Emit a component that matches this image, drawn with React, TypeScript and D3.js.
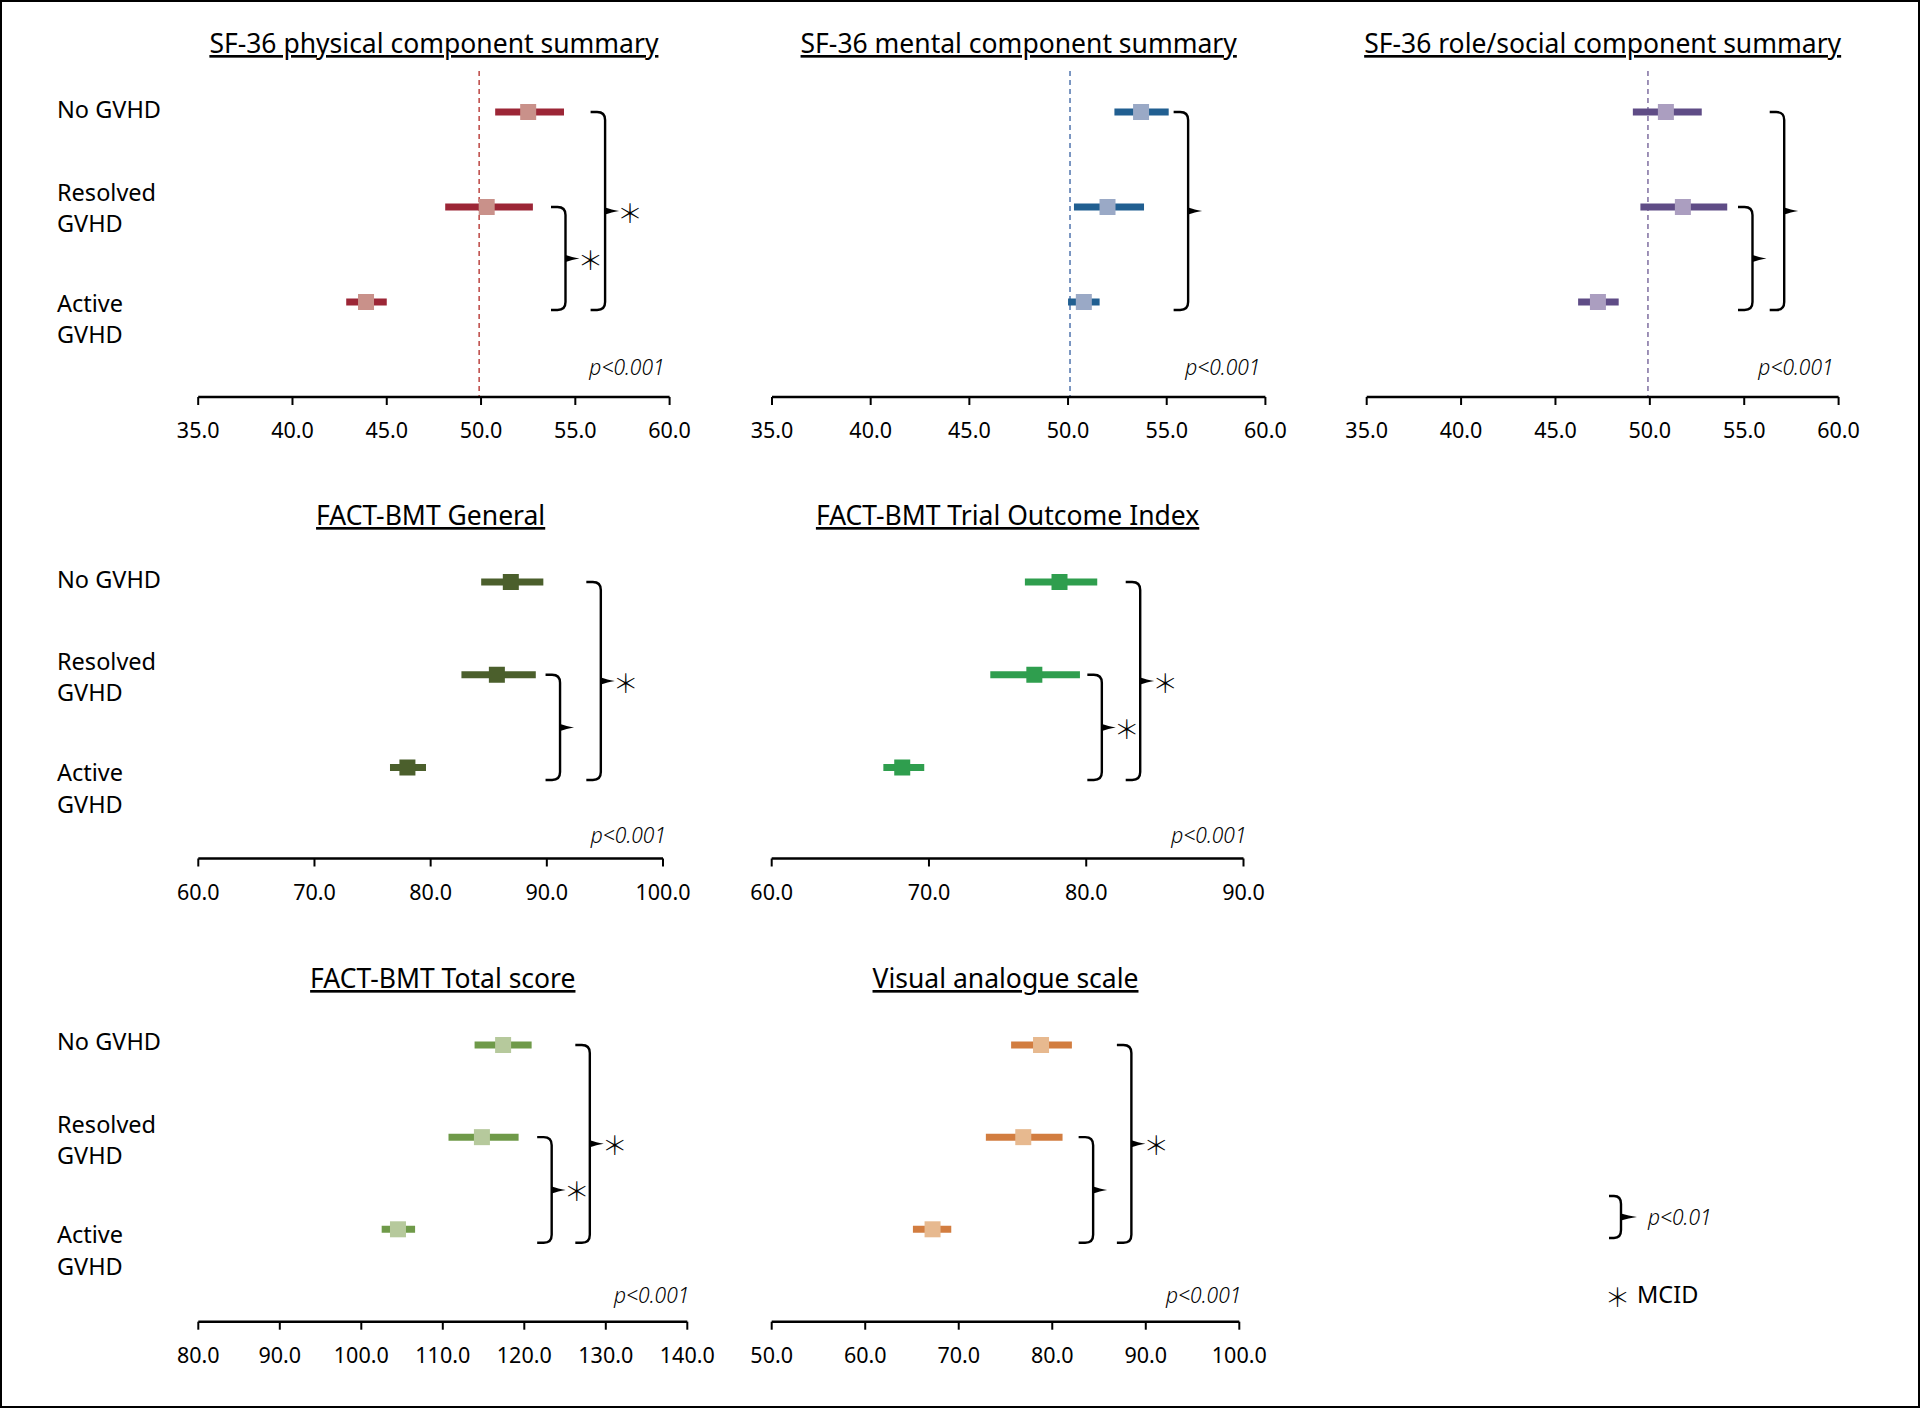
import React from "react";
import * as d3 from "d3";

// ---------- DATA ----------
const groupLabels = ["No GVHD", "Resolved GVHD", "Active GVHD"];

const titles = [
  "SF-36 physical component summary",
  "SF-36 mental component summary",
  "SF-36 role/social component summary",
  "FACT-BMT General",
  "FACT-BMT Trial Outcome Index",
  "FACT-BMT Total score",
  "Visual analogue scale",
];

// [No GVHD, Resolved GVHD, Active GVHD]
const physMean = [52.5, 50.3, 43.9];
const physLow = [50.75, 48.1, 42.85];
const physHigh = [54.4, 52.75, 45.0];

const mentMean = [53.7, 52.0, 50.8];
const mentLow = [52.35, 50.3, 50.0];
const mentHigh = [55.1, 53.85, 51.6];

const roleMean = [50.85, 51.75, 47.25];
const roleLow = [49.1, 49.5, 46.2];
const roleHigh = [52.75, 54.1, 48.35];

const genMean = [86.9, 85.7, 78.0];
const genLow = [84.35, 82.65, 76.5];
const genHigh = [89.7, 89.05, 79.6];

const toiMean = [78.3, 76.7, 68.3];
const toiLow = [76.1, 73.9, 67.1];
const toiHigh = [80.7, 79.6, 69.7];

const totMean = [117.4, 114.8, 104.5];
const totLow = [113.9, 110.7, 102.5];
const totHigh = [120.9, 119.3, 106.6];

const vasMean = [78.8, 76.9, 67.2];
const vasLow = [75.6, 72.9, 65.1];
const vasHigh = [82.1, 81.1, 69.2];

const ticksSF = [35, 40, 45, 50, 55, 60];
const ticksGen = [60, 70, 80, 90, 100];
const ticksToi = [60, 70, 80, 90];
const ticksTot = [80, 90, 100, 110, 120, 130, 140];
const ticksVas = [50, 60, 70, 80, 90, 100];

const normValues = [49.9, 50.1, 49.9, null, null, null, null];
const pTexts = ["p<0.001", "p<0.001", "p<0.001", "p<0.001", "p<0.001", "p<0.001", "p<0.001"];

// comparison brackets: [fromIndex, toIndex, x-value, MCID star]
const bracketsPhys = [[0, 2, 55.81, true], [1, 2, 53.71, true]];
const bracketsMent = [[0, 2, 55.35, false]];
const bracketsRole = [[0, 2, 56.35, false], [1, 2, 54.67, false]];
const bracketsGen = [[0, 2, 93.4, true], [1, 2, 89.89, false]];
const bracketsToi = [[0, 2, 82.51, true], [1, 2, 80.07, true]];
const bracketsTot = [[0, 2, 126.26, true], [1, 2, 121.58, true]];
const bracketsVas = [[0, 2, 86.91, true], [1, 2, 82.82, false]];

// ---------- STYLE / LAYOUT ----------
const FONT = "'Noto Sans', 'Open Sans', sans-serif";
const STAR_FONT = "'Noto Sans CJK KR', 'Noto Sans CJK JP', 'DejaVu Sans'";

const rowsLayout = [
  { title: 53, rows: [112, 302], axis: 397, p: 375, brBottom: 310, refTop: 71,
    labels: [[118], [200.7, 231.7], [311.7, 343]] },
  { title: 525, rows: [582, 767.5], axis: 858.5, p: 843, brBottom: 780, refTop: 0,
    labels: [[588.3], [670, 701], [781, 812.7]] },
  { title: 988, rows: [1045, 1229.3], axis: 1321.7, p: 1303, brBottom: 1242.7, refTop: 0,
    labels: [[1050], [1132.7, 1164], [1243.3, 1275]] },
];

const panels = [
  { title: titles[0], mean: physMean, low: physLow, high: physHigh, ticks: ticksSF, norm: normValues[0], p: pTexts[0], br: bracketsPhys,
    row: 0, x: [198.2, 669.6], pDx: -5, bar: "#9c2636", sq: "#c9918a", ref: "#c0504d" },
  { title: titles[1], mean: mentMean, low: mentLow, high: mentHigh, ticks: ticksSF, norm: normValues[1], p: pTexts[1], br: bracketsMent,
    row: 0, x: [772, 1265.4], pDx: -5, bar: "#215f91", sq: "#9aa9c6", ref: "#5b7db3" },
  { title: titles[2], mean: roleMean, low: roleLow, high: roleHigh, ticks: ticksSF, norm: normValues[2], p: pTexts[2], br: bracketsRole,
    row: 0, x: [1366.7, 1838.6], pDx: -5, bar: "#5f4c86", sq: "#ab9ec0", ref: "#8777a6" },
  { title: titles[3], mean: genMean, low: genLow, high: genHigh, ticks: ticksGen, norm: normValues[3], p: pTexts[3], br: bracketsGen,
    row: 1, x: [198.3, 663], pDx: 3, bar: "#4b5f2c", sq: "#4b5f2c", ref: "" },
  { title: titles[4], mean: toiMean, low: toiLow, high: toiHigh, ticks: ticksToi, norm: normValues[4], p: pTexts[4], br: bracketsToi,
    row: 1, x: [771.7, 1243.5], pDx: 3, bar: "#2f9e4e", sq: "#2f9e4e", ref: "" },
  { title: titles[5], mean: totMean, low: totLow, high: totHigh, ticks: ticksTot, norm: normValues[5], p: pTexts[5], br: bracketsTot,
    row: 2, x: [198.3, 687.3], pDx: 2, bar: "#6f9a49", sq: "#b6c99c", ref: "" },
  { title: titles[6], mean: vasMean, low: vasLow, high: vasHigh, ticks: ticksVas, norm: normValues[6], p: pTexts[6], br: bracketsVas,
    row: 2, x: [771.7, 1239.3], pDx: 2, bar: "#d27d40", sq: "#e7b98f", ref: "" },
];

const fmt = d3.format(".1f");

function Star({ x, y }: { x: number; y: number }) {
  return (
    <text x={x} y={y} textAnchor="middle" dominantBaseline="central" fontFamily={STAR_FONT} fontWeight={200} fontSize={26} fill="#000">
      ＊
    </text>
  );
}

function Nib({ xv, ym, len }: { xv: number; ym: number; len: number }) {
  const tip = xv + len;
  return (
    <path d={`M${xv},${ym - 3.5} C${xv + 5},${ym - 2} ${tip - 6},${ym - 1} ${tip},${ym} C${tip - 6},${ym + 1} ${xv + 5},${ym + 2} ${xv},${ym + 3.5} Z`} fill="#000" />
  );
}

function Brace({ x0, y0, y1, star }: { x0: number; y0: number; y1: number; star: boolean }) {
  const xv = x0 + 14.5;
  const tip = xv + 14;
  const ym = (y0 + y1) / 2;
  const r = 8;
  const d = `M${x0},${y0} L${xv - r},${y0} Q${xv},${y0} ${xv},${y0 + r} L${xv},${y1 - r} Q${xv},${y1} ${xv - r},${y1} L${x0},${y1}`;
  return (
    <g>
      <path d={d} fill="none" stroke="#000" strokeWidth={2.4} />
      <Nib xv={xv} ym={ym} len={14} />
      {star && <Star x={tip + 11} y={ym} />}
    </g>
  );
}

function Panel({ p, first }: { p: any; first: boolean }) {
  const L = rowsLayout[p.row];
  const x = d3.scaleLinear().domain([p.ticks[0], p.ticks[p.ticks.length - 1]]).range(p.x);
  const y = d3.scalePoint<string>().domain(groupLabels).range(L.rows);
  const cx = (p.x[0] + p.x[1]) / 2;
  return (
    <g>
      <text x={cx} y={L.title} textAnchor="middle" fontFamily={FONT} fontSize={26.5} fill="#000" style={{ textDecoration: "underline" }}>
        {p.title}
      </text>
      {p.norm != null && (
        <line x1={x(p.norm)} x2={x(p.norm)} y1={L.refTop} y2={L.axis} stroke={p.ref} strokeWidth={1.6} strokeDasharray="5,4" />
      )}
      {groupLabels.map((g, i) => {
        const yy = y(g)!;
        const s = 16;
        return (
          <g key={g}>
            <line x1={x(p.low[i])} x2={x(p.high[i])} y1={yy} y2={yy} stroke={p.bar} strokeWidth={7} />
            <rect x={x(p.mean[i]) - s / 2} y={yy - s / 2} width={s} height={s} fill={p.sq} />
          </g>
        );
      })}
      {p.br.map((b: any, i: number) => (
        <Brace key={i} x0={x(b[2])} y0={y(groupLabels[b[0]])!} y1={L.brBottom} star={b[3]} />
      ))}
      <text x={p.x[1] + p.pDx} y={L.p} textAnchor="end" fontFamily={FONT} fontStyle="italic" fontWeight={300} fontSize={21} fill="#000">
        {p.p}
      </text>
      <line x1={p.x[0]} x2={p.x[1]} y1={L.axis} y2={L.axis} stroke="#000" strokeWidth={2.6} />
      {p.ticks.map((t: number) => (
        <g key={t}>
          <line x1={x(t)} x2={x(t)} y1={L.axis} y2={L.axis + 8} stroke="#000" strokeWidth={2} />
          <text x={x(t)} y={L.axis + 41} textAnchor="middle" fontFamily={FONT} fontSize={21.5} fill="#000">
            {fmt(t)}
          </text>
        </g>
      ))}
      {first &&
        groupLabels.map((g, i) => {
          const words = i === 0 ? [g] : g.split(" ");
          return words.map((w, k) => (
            <text key={g + k} x={57} y={L.labels[i][k]} fontFamily={FONT} fontSize={23.5} fill="#000">
              {w}
            </text>
          ));
        })}
    </g>
  );
}

export default function App() {
  const lb = { x0: 1609, y0: 1196, y1: 1238 };
  return (
    <>
      <style>{`body{margin:0;}`}</style>
      <svg width={1920} height={1408} style={{ display: "block", background: "#fff" }}>
        <rect x={1} y={1} width={1918} height={1406} fill="#fff" stroke="#000" strokeWidth={2} />
        {panels.map((p, i) => (
          <Panel key={i} p={p} first={i === 0 || i === 3 || i === 5} />
        ))}
        {/* legend */}
        <g>
          <path
            d={`M${lb.x0},${lb.y0} L${lb.x0 + 5},${lb.y0} Q${lb.x0 + 12},${lb.y0} ${lb.x0 + 12},${lb.y0 + 8} L${lb.x0 + 12},${lb.y1 - 8} Q${lb.x0 + 12},${lb.y1} ${lb.x0 + 5},${lb.y1} L${lb.x0},${lb.y1}`}
            fill="none"
            stroke="#000"
            strokeWidth={2.4}
          />
          <Nib xv={lb.x0 + 12} ym={1217} len={16} />
          <text x={1648} y={1225} fontFamily={FONT} fontStyle="italic" fontWeight={300} fontSize={21} fill="#000">p&lt;0.01</text>
          <Star x={1617.5} y={1295} />
          <text x={1637} y={1303} fontFamily={FONT} fontSize={23.5} fill="#000">MCID</text>
        </g>
      </svg>
    </>
  );
}
